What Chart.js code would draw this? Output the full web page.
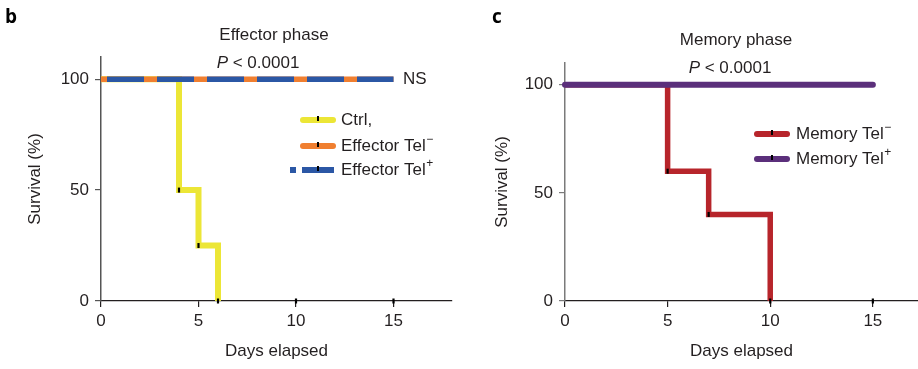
<!DOCTYPE html>
<html>
<head>
<meta charset="utf-8">
<script src="https://cdn.jsdelivr.net/npm/chart.js@4.4.1/dist/chart.umd.min.js"></script>
<style>
    html, body { margin: 0; padding: 0; background: #fff; }
    #wrap { position: relative; width: 918px; height: 369px; overflow: hidden; }
    .panel { position: absolute; top: 0; height: 369px; }
    #panelB { left: 0; width: 460px; }
    #panelC { left: 460px; width: 458px; }
</style>
</head>
<body>
<div id="wrap">
    <div class="panel" id="panelB"><canvas id="chartB"></canvas></div>
    <div class="panel" id="panelC"><canvas id="chartC"></canvas></div>
</div>
<script>
// Axis ticks
const xTicks = [0, 5, 10, 15];
const yTicks = [0, 50, 100];

// Effector phase (panel b)
const ctrlDays = [0, 4, 5, 6];
const ctrlSurvival = [100, 50, 25, 0];
const effTelNegDays = [0, 15];
const effTelNegSurvival = [100, 100];
const effTelPosDays = [0, 15];
const effTelPosSurvival = [100, 100];
const effCensorDays = [4, 5, 6, 10, 15];
const effCensorSurvival = [50, 25, 0, 0, 0];

// Memory phase (panel c)
const memTelNegDays = [0, 5, 7, 10];
const memTelNegSurvival = [100, 60, 40, 0];
const memTelPosDays = [0, 15];
const memTelPosSurvival = [100, 100];
const memCensorDays = [5, 7, 10, 15];
const memCensorSurvival = [60, 40, 0, 0];

const INK = '#231f20';
const FONT = '"Liberation Sans", Arial, Helvetica, sans-serif';

Chart.defaults.font.family = FONT;
Chart.defaults.color = INK;

function toPoints(xs, ys) {
    return xs.map((x, i) => ({ x: x, y: ys[i] }));
}

// Kaplan-Meier style step line
function stepLine(xs, ys, color, width, extra) {
    return Object.assign({
        data: toPoints(xs, ys),
        stepped: 'before',
        borderColor: color,
        borderWidth: width,
        borderJoinStyle: 'miter',
        borderCapStyle: 'butt',
        pointRadius: 0,
        fill: false,
        clip: 6
    }, extra || {});
}

// Censor tick marks
function censorMarks(xs, ys) {
    return {
        data: toPoints(xs, ys),
        showLine: false,
        pointStyle: 'line',
        rotation: 90,
        pointRadius: 2.5,
        pointBorderWidth: 2.2,
        pointBorderColor: '#000',
        pointBackgroundColor: '#000',
        clip: false
    };
}

// Draw "P < 0.0001" with italic P
function drawPValue(ctx, cx, cy) {
    ctx.font = 'italic 17px ' + FONT;
    const wP = ctx.measureText('P').width;
    ctx.font = '17px ' + FONT;
    const rest = ' < 0.0001';
    const wR = ctx.measureText(rest).width;
    const x0 = cx - (wP + wR) / 2;
    ctx.textAlign = 'left';
    ctx.font = 'italic 17px ' + FONT;
    ctx.fillText('P', x0, cy);
    ctx.font = '17px ' + FONT;
    ctx.fillText(rest, x0 + wP, cy);
}

// Titles, panel letter, legend
const decorPlugin = {
    id: 'decor',
    afterDraw(chart, args, o) {
        const ctx = chart.ctx;
        ctx.save();

        ctx.fillStyle = '#000';
        ctx.font = 'bold 19px "Open Sans", ' + FONT;
        ctx.textAlign = 'left';
        ctx.textBaseline = 'alphabetic';
        ctx.fillText(o.letter, o.letterX, o.letterY);

        ctx.fillStyle = INK;
        ctx.textBaseline = 'middle';
        ctx.textAlign = 'center';
        ctx.font = '17px ' + FONT;
        ctx.fillText(o.title, o.titleX, o.titleY);
        drawPValue(ctx, o.pX, o.pY);

        if (o.ns) {
            ctx.textAlign = 'left';
            ctx.font = '17px ' + FONT;
            ctx.fillText('NS', o.ns.x, o.ns.y);
        }

        o.legend.forEach(item => {
            const y = item.y;
            ctx.lineWidth = 6;
            ctx.strokeStyle = item.color;
            if (item.dashed) {
                ctx.lineCap = 'butt';
                ctx.beginPath();
                ctx.moveTo(o.legendX1 - 13, y);
                ctx.lineTo(o.legendX1 - 7, y);
                ctx.moveTo(o.legendX1 - 1, y);
                ctx.lineTo(o.legendX2 + 1, y);
                ctx.stroke();
            } else {
                ctx.lineCap = 'round';
                ctx.beginPath();
                ctx.moveTo(o.legendX1, y);
                ctx.lineTo(o.legendX2, y);
                ctx.stroke();
            }
            // black tick in the middle
            const mx = (o.legendX1 + o.legendX2) / 2;
            ctx.lineCap = 'butt';
            ctx.lineWidth = 2;
            ctx.strokeStyle = '#000';
            ctx.beginPath();
            ctx.moveTo(mx, y - 4);
            ctx.lineTo(mx, y + 1);
            ctx.stroke();

            ctx.fillStyle = INK;
            ctx.textAlign = 'left';
            ctx.font = '17px ' + FONT;
            ctx.fillText(item.label, o.legendTextX, y);
            if (item.sup) {
                const w = ctx.measureText(item.label).width;
                ctx.font = '12px ' + FONT;
                ctx.fillText(item.sup, o.legendTextX + w + 0.5, y - 6);
            }
        });

        ctx.restore();
    }
};

function buildChart(canvasId, cfg) {
    return new Chart(document.getElementById(canvasId), {
        type: 'line',
        data: { datasets: cfg.datasets },
        options: {
            responsive: true,
            maintainAspectRatio: false,
            animation: false,
            events: [],
            layout: {
                autoPadding: false,
                padding: { left: 0, right: cfg.padRight, top: cfg.padTop, bottom: 0 }
            },
            plugins: {
                legend: { display: false },
                tooltip: { enabled: false },
                decor: cfg.decor
            },
            scales: {
                x: {
                    type: 'linear',
                    min: 0,
                    max: cfg.xMax,
                    afterFit: s => { s.height = 68; },
                    afterBuildTicks: s => { s.ticks = xTicks.map(v => ({ value: v })); },
                    grid: { drawOnChartArea: false, drawTicks: true, tickLength: 6, color: INK, lineWidth: 1.2 },
                    border: { color: INK, width: 1.3 },
                    ticks: { color: INK, font: { size: 17 }, padding: 4, maxRotation: 0 },
                    title: { display: true, text: 'Days elapsed', color: INK, font: { size: 17 }, padding: { top: 0, bottom: 7 } }
                },
                y: {
                    type: 'linear',
                    min: 0,
                    max: 110,
                    afterFit: s => { s.width = cfg.yWidth; },
                    afterBuildTicks: s => { s.ticks = yTicks.map(v => ({ value: v })); },
                    grid: { drawOnChartArea: false, drawTicks: true, tickLength: 6, color: cfg.yColor, lineWidth: 1.2 },
                    border: { color: cfg.yColor, width: 1.5 },
                    ticks: { color: INK, font: { size: 17 }, padding: 6 },
                    title: { display: true, text: 'Survival (%)', color: INK, font: { size: 17 }, padding: { top: cfg.yTitlePad, bottom: 0 } }
                }
            }
        },
        plugins: [decorPlugin]
    });
}

// Panel b: Effector phase
buildChart('chartB', {
    xMax: 18,
    padTop: 57,
    padRight: 8,
    yWidth: 101,
    yTitlePad: 25,
    yColor: '#555555',
    datasets: [
        censorMarks(effCensorDays, effCensorSurvival),
        stepLine(effTelPosDays, effTelPosSurvival, '#2b57a5', 5.5, { borderDash: [37, 13], borderDashOffset: 44 }),
        stepLine(effTelNegDays, effTelNegSurvival, '#f07f30', 5.5),
        stepLine(ctrlDays, ctrlSurvival, '#ece636', 6)
    ],
    decor: {
        letter: 'b', letterX: 5, letterY: 23,
        title: 'Effector phase', titleX: 274, titleY: 35,
        pX: 258, pY: 63,
        ns: { x: 403, y: 79 },
        legendX1: 303, legendX2: 333, legendTextX: 341,
        legend: [
            { label: 'Ctrl,', color: '#ece636', y: 120 },
            { label: 'Effector Tel', sup: '\u2212', color: '#f07f30', y: 146 },
            { label: 'Effector Tel', sup: '+', color: '#2b57a5', dashed: true, y: 170 }
        ]
    }
});

// Panel c: Memory phase
buildChart('chartC', {
    xMax: 17.2,
    padTop: 63,
    padRight: 0,
    yWidth: 105,
    yTitlePad: 32,
    yColor: '#7a7a7a',
    datasets: [
        censorMarks(memCensorDays, memCensorSurvival),
        stepLine(memTelPosDays, memTelPosSurvival, '#5b2f7b', 6, { borderCapStyle: 'round' }),
        stepLine(memTelNegDays, memTelNegSurvival, '#b7252b', 5.5)
    ],
    decor: {
        letter: 'c', letterX: 32, letterY: 23,
        title: 'Memory phase', titleX: 276, titleY: 40,
        pX: 270, pY: 68,
        legendX1: 297, legendX2: 327, legendTextX: 336,
        legend: [
            { label: 'Memory Tel', sup: '\u2212', color: '#b7252b', y: 134 },
            { label: 'Memory Tel', sup: '+', color: '#5b2f7b', y: 159 }
        ]
    }
});
</script>
</body>
</html>
